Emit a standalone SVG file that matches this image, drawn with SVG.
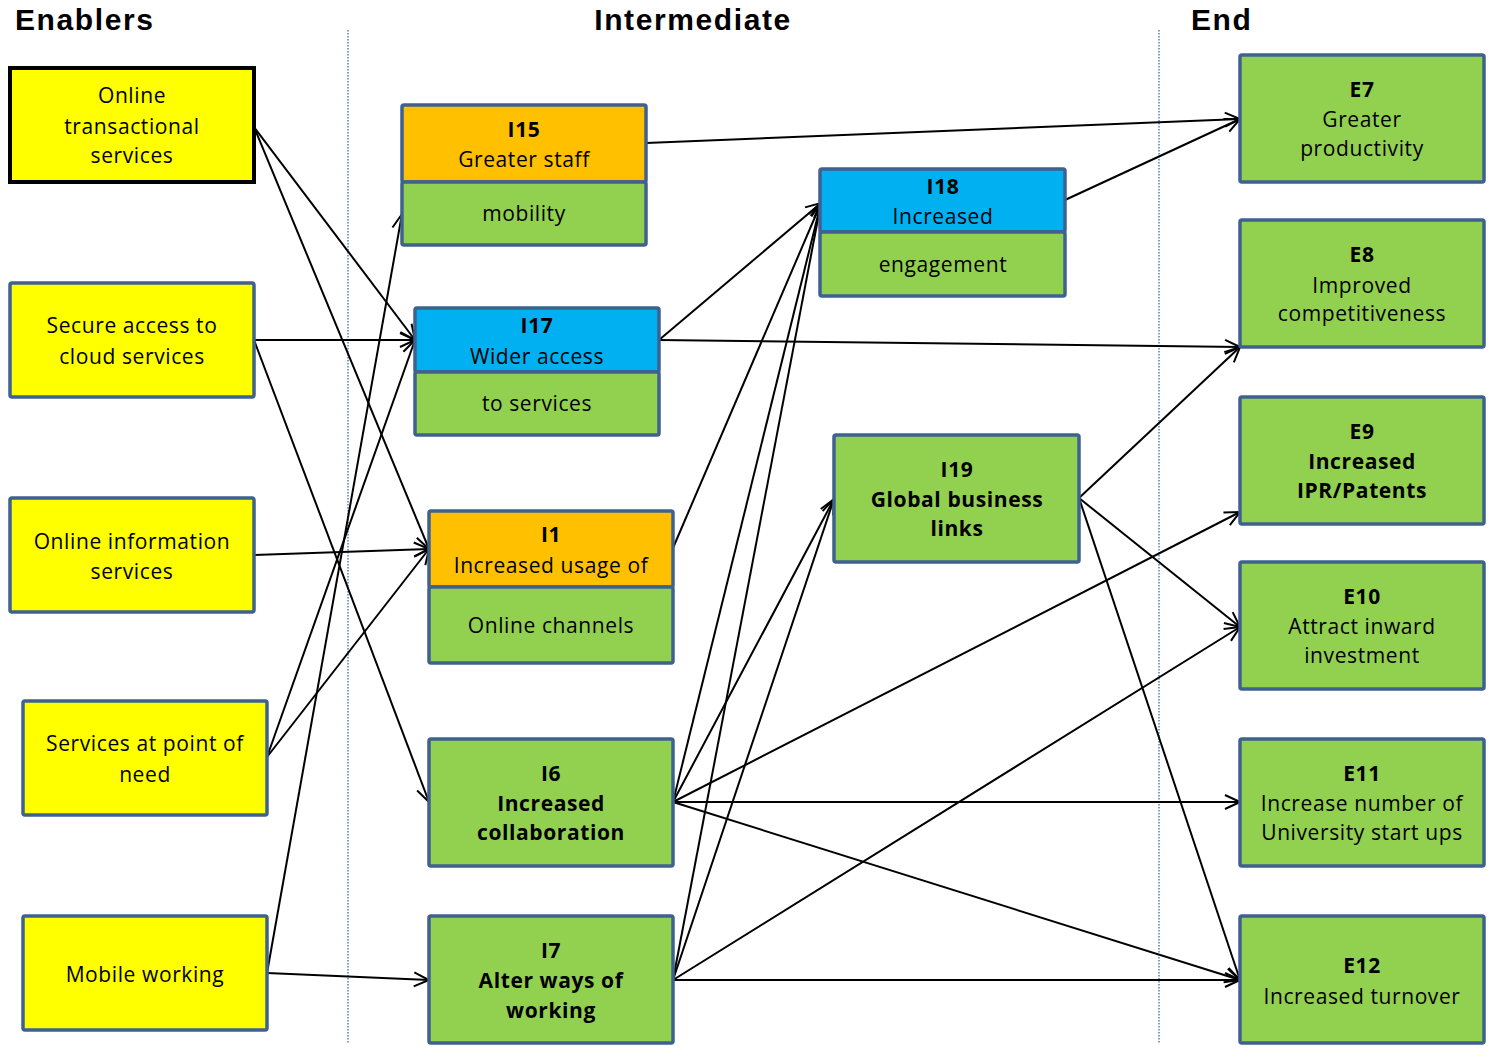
<svg xmlns="http://www.w3.org/2000/svg" width="1488" height="1051" viewBox="0 0 1488 1051">
<defs>
<style>
.n{stroke:#3F6190;stroke-width:3.5}
.k{stroke:#000;stroke-width:4}
.y{fill:#FFFF00}.g{fill:#92D050}.o{fill:#FFC000}.b{fill:#00B0F0}
.t{font-family:"Open Sans","Noto Sans","DejaVu Sans",sans-serif;font-size:21px;text-anchor:middle;fill:#000;letter-spacing:0.6px}
.tb{font-weight:bold}
.h{font-family:"Liberation Sans",Arial,sans-serif;font-weight:bold;font-size:30px;letter-spacing:1.6px;fill:#000}
.dv{stroke:#4F81BD;stroke-width:1.5;stroke-dasharray:1.5 1.5;fill:none}
.c line{stroke:#000;stroke-width:2;marker-end:url(#a)}
</style>
<marker id="a" viewBox="-16 -9 18 18" refX="0" refY="0" markerWidth="18" markerHeight="18" markerUnits="userSpaceOnUse" orient="auto">
<path d="M-15,-7 L0,0 L-15,7" fill="none" stroke="#000" stroke-width="2"/>
</marker>
</defs>
<rect width="1488" height="1051" fill="#fff"/>

<g id="headers">
<text class="h" x="15" y="30">Enablers</text>
<text class="h" x="693" y="30" text-anchor="middle">Intermediate</text>
<text class="h" x="1191" y="30">End</text>
</g>
<g id="dividers">
<line class="dv" x1="348" y1="30" x2="348" y2="1043"/>
<line class="dv" x1="1159" y1="30" x2="1159" y2="1043"/>
</g>

<g class="c" id="connectors">
<line x1="254" y1="127" x2="415" y2="340"/>
<line x1="254" y1="127" x2="429" y2="549"/>
<line x1="254" y1="340" x2="415" y2="340"/>
<line x1="254" y1="340" x2="429" y2="802"/>
<line x1="254" y1="555" x2="429" y2="549"/>
<line x1="267" y1="757" x2="415" y2="340"/>
<line x1="267" y1="757" x2="429" y2="549"/>
<line x1="267" y1="973" x2="402" y2="214"/>
<line x1="267" y1="973" x2="429" y2="980"/>
<line x1="646" y1="143" x2="1240" y2="119"/>
<line x1="659" y1="340" x2="821" y2="203"/>
<line x1="659" y1="340" x2="1240" y2="347"/>
<line x1="673" y1="548" x2="821" y2="203"/>
<line x1="1065" y1="200" x2="1240" y2="119"/>
<line x1="673" y1="802" x2="821" y2="203"/>
<line x1="673" y1="802" x2="834" y2="499"/>
<line x1="673" y1="802" x2="1240" y2="512"/>
<line x1="673" y1="802" x2="1240" y2="802"/>
<line x1="673" y1="802" x2="1240" y2="980"/>
<line x1="673" y1="980" x2="821" y2="203"/>
<line x1="673" y1="980" x2="834" y2="499"/>
<line x1="673" y1="980" x2="1240" y2="627"/>
<line x1="673" y1="980" x2="1240" y2="980"/>
<line x1="1079" y1="498" x2="1240" y2="347"/>
<line x1="1079" y1="498" x2="1240" y2="627"/>
<line x1="1079" y1="498" x2="1240" y2="980"/>
</g>

<g id="en1"><rect class="y k" x="10" y="68" width="244" height="114"/>
<text class="t" x="132" y="103">Online</text><text class="t" x="132" y="134">transactional</text><text class="t" x="132" y="163">services</text></g>
<g id="en2"><rect class="y n" x="10" y="283" width="244" height="114" rx="2"/>
<text class="t" x="132" y="333">Secure access to</text><text class="t" x="132" y="364">cloud services</text></g>
<g id="en3"><rect class="y n" x="10" y="498" width="244" height="114" rx="2"/>
<text class="t" x="132" y="549">Online information</text><text class="t" x="132" y="579">services</text></g>
<g id="en4"><rect class="y n" x="23" y="701" width="244" height="114" rx="2"/>
<text class="t" x="145" y="751">Services at point of</text><text class="t" x="145" y="782">need</text></g>
<g id="en5"><rect class="y n" x="23" y="916" width="244" height="114" rx="2"/>
<text class="t" x="145" y="982">Mobile working</text></g>

<g id="I15"><rect class="o n" x="402" y="105" width="244" height="77" rx="2"/><rect class="g n" x="402" y="182" width="244" height="63" rx="2"/>
<text class="t tb" x="524" y="137">I15</text><text class="t" x="524" y="167">Greater staff</text><text class="t" x="524" y="221">mobility</text></g>
<g id="I17"><rect class="b n" x="415" y="308" width="244" height="64" rx="2"/><rect class="g n" x="415" y="372" width="244" height="63" rx="2"/>
<text class="t tb" x="537" y="333">I17</text><text class="t" x="537" y="364">Wider access</text><text class="t" x="537" y="411">to services</text></g>
<g id="I1"><rect class="o n" x="429" y="511" width="244" height="76" rx="2"/><rect class="g n" x="429" y="587" width="244" height="76" rx="2"/>
<text class="t tb" x="551" y="542">I1</text><text class="t" x="551" y="573">Increased usage of</text><text class="t" x="551" y="633">Online channels</text></g>
<g id="I6"><rect class="g n" x="429" y="739" width="244" height="127" rx="2"/>
<text class="t tb" x="551" y="781">I6</text><text class="t tb" x="551" y="811">Increased</text><text class="t tb" x="551" y="840">collaboration</text></g>
<g id="I7"><rect class="g n" x="429" y="916" width="244" height="127" rx="2"/>
<text class="t tb" x="551" y="958">I7</text><text class="t tb" x="551" y="988">Alter ways of</text><text class="t tb" x="551" y="1018">working</text></g>
<g id="I18"><rect class="b n" x="820" y="169" width="245" height="63" rx="2"/><rect class="g n" x="820" y="232" width="245" height="64" rx="2"/>
<text class="t tb" x="943" y="194">I18</text><text class="t" x="943" y="224">Increased</text><text class="t" x="943" y="272">engagement</text></g>
<g id="I19"><rect class="g n" x="834" y="435" width="245" height="127" rx="2"/>
<text class="t tb" x="957" y="477">I19</text><text class="t tb" x="957" y="507">Global business</text><text class="t tb" x="957" y="536">links</text></g>

<g id="E7"><rect class="g n" x="1240" y="55" width="244" height="127" rx="2"/>
<text class="t tb" x="1362" y="97">E7</text><text class="t" x="1362" y="127">Greater</text><text class="t" x="1362" y="156">productivity</text></g>
<g id="E8"><rect class="g n" x="1240" y="220" width="244" height="127" rx="2"/>
<text class="t tb" x="1362" y="262">E8</text><text class="t" x="1362" y="293">Improved</text><text class="t" x="1362" y="321">competitiveness</text></g>
<g id="E9"><rect class="g n" x="1240" y="397" width="244" height="127" rx="2"/>
<text class="t tb" x="1362" y="439">E9</text><text class="t tb" x="1362" y="469">Increased</text><text class="t tb" x="1362" y="498">IPR/Patents</text></g>
<g id="E10"><rect class="g n" x="1240" y="562" width="244" height="127" rx="2"/>
<text class="t tb" x="1362" y="604">E10</text><text class="t" x="1362" y="634">Attract inward</text><text class="t" x="1362" y="663">investment</text></g>
<g id="E11"><rect class="g n" x="1240" y="739" width="244" height="127" rx="2"/>
<text class="t tb" x="1362" y="781">E11</text><text class="t" x="1362" y="811">Increase number of</text><text class="t" x="1362" y="840">University start ups</text></g>
<g id="E12"><rect class="g n" x="1240" y="916" width="244" height="127" rx="2"/>
<text class="t tb" x="1362" y="973">E12</text><text class="t" x="1362" y="1004">Increased turnover</text></g>
</svg>
